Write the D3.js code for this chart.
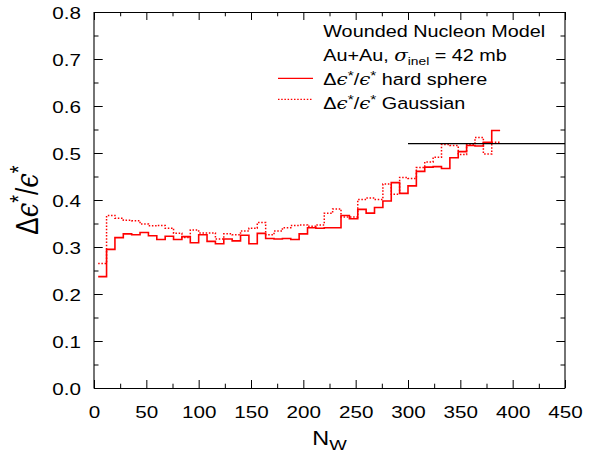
<!DOCTYPE html>
<html><head><meta charset="utf-8">
<script src="https://cdn.jsdelivr.net/npm/d3@7"></script>
<style>
body{margin:0;background:#fff}
svg{display:block}
text{font-family:"Liberation Sans",Arial,Helvetica,sans-serif;fill:#000}
</style>
</head><body>
<svg id="c" width="592" height="454"></svg>
<script>
// ---------- data ----------
const nwEdges = [4,12,20,28,36,44,52,60,68,76,84,92,100,108,116,124,132,140,148,156,164,172,180,188,196,204,212,220,228,236,244,252,260,268,276,284,292,300,308,316,324,332,340,348,356,364,372,380,388];
const hardSphere = [0.237,0.295,0.320,0.328,0.326,0.331,0.324,0.316,0.323,0.316,0.322,0.309,0.326,0.312,0.307,0.317,0.313,0.325,0.307,0.329,0.318,0.317,0.318,0.316,0.328,0.341,0.340,0.341,0.341,0.367,0.360,0.380,0.372,0.384,0.398,0.437,0.414,0.430,0.461,0.470,0.471,0.467,0.490,0.503,0.516,0.515,0.523,0.548];
const gaussian   = [0.265,0.367,0.361,0.357,0.356,0.349,0.345,0.346,0.340,0.329,0.320,0.336,0.330,0.330,0.317,0.328,0.326,0.334,0.340,0.352,0.326,0.334,0.341,0.346,0.347,0.344,0.347,0.372,0.381,0.364,0.364,0.401,0.404,0.401,0.434,0.412,0.448,0.446,0.469,0.481,0.491,0.518,0.516,0.497,0.518,0.533,0.498,0.523];
const xMajorTicks = [0,50,100,150,200,250,300,350,400,450];
const xMinorTicks = [25,75,125,175,225,275,325,375,425];
const yMajorTicks = [0,0.1,0.2,0.3,0.4,0.5,0.6,0.7,0.8];
const yMinorTicks = [0.05,0.15,0.25,0.35,0.45,0.55,0.65,0.75];
const refLineX = [300,450];
const refLineY = 0.52;
const headerLines = ["Wounded Nucleon Model"];

// ---------- layout ----------
const L = 94, R = 565, T = 12, B = 388;
const SX = 1.2;
const svg = d3.select("#c");
const x = d3.scaleLinear().domain([0,450]).range([L,R]);
const y = d3.scaleLinear().domain([0,0.8]).range([B,T]);

function styleTicks(g){
  g.select(".domain").remove();
  g.selectAll(".tick line").attr("stroke","#000").attr("stroke-width",1);
}
// bottom
svg.append("g").attr("transform",`translate(0,${B})`)
  .call(d3.axisBottom(x).tickValues(xMajorTicks).tickSize(-8).tickSizeOuter(0).tickFormat(d3.format("d")))
  .call(styleTicks)
  .call(g=>g.selectAll("text").attr("y",29.7).attr("dy",null)
      .attr("transform",`scale(${SX},1)`).style("font-size","17.2px").attr("fill","#000")
      .attr("font-family",null));
svg.append("g").attr("transform",`translate(0,${B})`)
  .call(d3.axisBottom(x).tickValues(xMinorTicks).tickSize(-4.3).tickSizeOuter(0).tickFormat(""))
  .call(styleTicks);
// top
svg.append("g").attr("transform",`translate(0,${T})`)
  .call(d3.axisTop(x).tickValues(xMajorTicks).tickSize(-8).tickSizeOuter(0).tickFormat(""))
  .call(styleTicks);
svg.append("g").attr("transform",`translate(0,${T})`)
  .call(d3.axisTop(x).tickValues(xMinorTicks).tickSize(-4.3).tickSizeOuter(0).tickFormat(""))
  .call(styleTicks);
// left
svg.append("g").attr("transform",`translate(${L},0)`)
  .call(d3.axisLeft(y).tickValues(yMajorTicks).tickSize(-8.7).tickSizeOuter(0).tickFormat(d3.format(".1f")))
  .call(styleTicks)
  .call(g=>g.selectAll("text").attr("x",-13/SX).attr("y",6.3).attr("dy",null)
      .attr("transform",`scale(${SX},1)`).style("font-size","17.2px").attr("fill","#000")
      .attr("font-family",null));
svg.append("g").attr("transform",`translate(${L},0)`)
  .call(d3.axisLeft(y).tickValues(yMinorTicks).tickSize(-4.5).tickSizeOuter(0).tickFormat(""))
  .call(styleTicks);
// right
svg.append("g").attr("transform",`translate(${R},0)`)
  .call(d3.axisRight(y).tickValues(yMajorTicks).tickSize(-8.7).tickSizeOuter(0).tickFormat(""))
  .call(styleTicks);
svg.append("g").attr("transform",`translate(${R},0)`)
  .call(d3.axisRight(y).tickValues(yMinorTicks).tickSize(-4.5).tickSizeOuter(0).tickFormat(""))
  .call(styleTicks);

// frame
svg.append("line").attr("x1",L).attr("x2",L).attr("y1",T).attr("y2",B+0.5).attr("stroke","#000").attr("stroke-width",1.1);
svg.append("line").attr("x1",R).attr("x2",R).attr("y1",T).attr("y2",B+0.5).attr("stroke","#000").attr("stroke-width",1.1);
svg.append("line").attr("x1",L).attr("x2",R).attr("y1",B+0.5).attr("y2",B+0.5).attr("stroke","#000");
svg.append("line").attr("x1",L).attr("x2",R).attr("y1",T+0.5).attr("y2",T+0.5).attr("stroke","#000");

// histograms
function stepPoints(vals){
  const pts = vals.map((v,i)=>[nwEdges[i],v]);
  pts.push([nwEdges[vals.length], vals[vals.length-1]]);
  return pts;
}
const line = d3.line().x(d=>x(d[0])).y(d=>y(d[1])).curve(d3.curveStepAfter);
svg.append("path").attr("d",line(stepPoints(gaussian))).attr("fill","none")
  .attr("stroke","#ff0000").attr("stroke-width",1.5).attr("stroke-dasharray","1.5,1.7");
svg.append("path").attr("d",line(stepPoints(hardSphere))).attr("fill","none")
  .attr("stroke","#ff0000").attr("stroke-width",1.6);

// reference line
svg.append("line").attr("x1",x(refLineX[0])).attr("x2",x(refLineX[1]))
  .attr("y1",y(refLineY)).attr("y2",y(refLineY)).attr("stroke","#000").attr("stroke-width",1.3);

// text helper
function rich(px,py,size,parts,opts={}){
  const t = svg.append("text")
    .attr("transform",`translate(${px},${py}) ${opts.rotate?"scale("+SX+",1) rotate(-90)":"scale("+SX+",1)"}`)
    .attr("text-anchor",opts.anchor||"start")
    .style("font-size",size+"px");
  parts.forEach(p=>{
    const s = t.append("tspan").text(p.t);
    if(p.dy) s.attr("dy",p.dy);
    if(p.size) s.style("font-size",p.size+"px");
    if(p.italic) s.style("font-style","italic");
    if(p.font) s.style("font-family",p.font);
  });
  return t;
}
const EPS = "\u03F5";
function epsParts(fs){
  const sup = fs*0.78, up = -fs*0.33;
  return [
    {t:"\u0394"},
    {t:EPS,italic:true,font:"DejaVu Serif"},
    {t:"*",size:sup,dy:up},
    {t:"/",dy:-up},
    {t:EPS,italic:true,font:"DejaVu Serif"},
    {t:"*",size:sup,dy:up}
  ];
}

// header text
const LX = 323.3, LFS = 16.5;
rich(LX,36.7,LFS,[{t:headerLines[0]}]);
rich(LX,60.5,LFS,[{t:"Au+Au, "},{t:"\u03C3",italic:true,font:"DejaVu Serif"},
  {t:"inel",size:11.5,dy:4},{t:" = 42 mb",dy:-4}]);
const eps1 = epsParts(LFS); eps1.push({t:" hard sphere",dy:-eps1[5].dy});
rich(LX,85,LFS,eps1);
const eps2 = epsParts(LFS); eps2.push({t:" Gaussian",dy:-eps2[5].dy});
rich(LX,109.3,LFS,eps2);

// legend swatches
svg.append("line").attr("x1",278).attr("x2",313).attr("y1",78.3).attr("y2",78.3)
  .attr("stroke","#ff0000").attr("stroke-width",1.3);
svg.append("line").attr("x1",278).attr("x2",313).attr("y1",99.3).attr("y2",99.3)
  .attr("stroke","#ff0000").attr("stroke-width",1.3).attr("stroke-dasharray","1.5,1.7");

// axis titles
rich((L+R)/2,445,19.5,[{t:"N"},{t:"W",size:15.5,dy:5}],{anchor:"middle"});
rich(37.5,(T+B)/2,26,epsParts(26),{anchor:"middle",rotate:true});
</script>
</body></html>
